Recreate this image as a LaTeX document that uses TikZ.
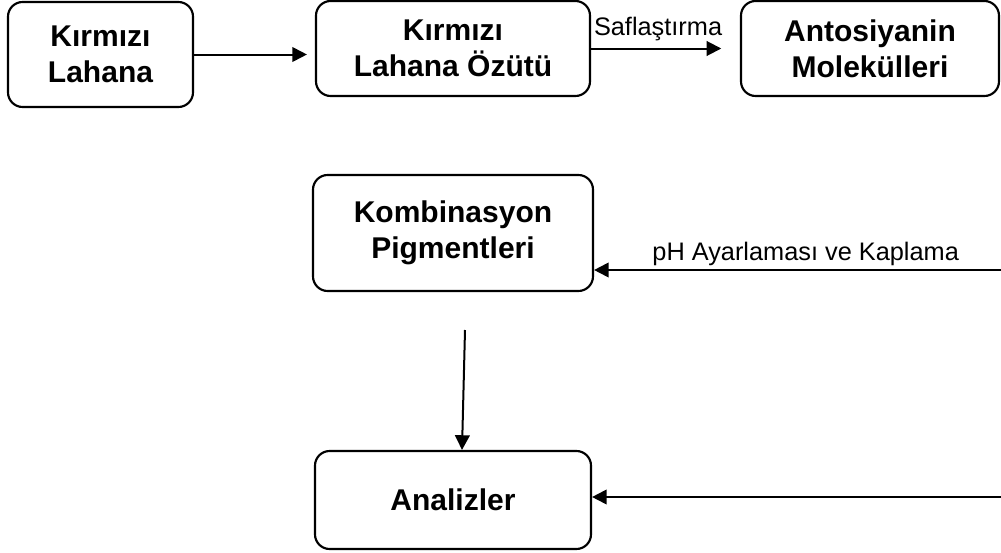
\documentclass[tikz,border=0pt]{standalone}
\usepackage{fontspec}
\setmainfont{Liberation Sans}
\usetikzlibrary{arrows.meta}

\begin{document}
\begin{tikzpicture}[x=0.75pt,y=-0.75pt,
  box/.style={draw,line width=1.6pt,rounded corners=11pt,align=center,inner sep=0pt,
    font=\bfseries\fontsize{22.5}{27}\selectfont},
  arr/.style={line width=1.5pt,-{Triangle[length=11pt,width=11pt]}},
  lbl/.style={font=\fontsize{19}{22}\selectfont,inner sep=2pt}]
\useasboundingbox (0,0) rectangle (1001,553);
% top row
\node[box,minimum width=138.75pt,minimum height=78.75pt] (lahana) at (100.5,54.5) {Kırmızı\\Lahana};
\node[box,minimum width=205.5pt,minimum height=71.25pt] (ozut) at (453,48.5) {Kırmızı\\Lahana Özütü};
\node[box,minimum width=193.5pt,minimum height=71.25pt] (anto) at (870,48.5) {Antosiyanin\\Molekülleri};
% lower column
\node[box,minimum width=210pt,minimum height=87pt] (komb) at (453,233) {Kombinasyon\\Pigmentleri};
\node[box,minimum width=207pt,minimum height=73.5pt] (analiz) at (453,500) {Analizler};
\coordinate (sag1) at (1001,270);
\coordinate (sag2) at (1001,497);
\coordinate (ust) at (465,330);
% arrows
\draw[arr,shorten >=6pt] (lahana.east) -- (lahana.east -| ozut.west);
\draw[arr,shorten >=14pt] (ozut.east) -- node[lbl,above=3pt,pos=0.45] {Saflaştırma} (ozut.east -| anto.west);
\draw[arr] (sag1) -- node[lbl,above=0.5pt,pos=0.48] {pH Ayarlaması ve Kaplama} (sag1 -| komb.east);
\draw[arr] (sag2) -- (sag2 -| analiz.east);
\draw[arr] (ust) -- ([xshift=6.75pt]analiz.north);
\end{tikzpicture}
\end{document}
